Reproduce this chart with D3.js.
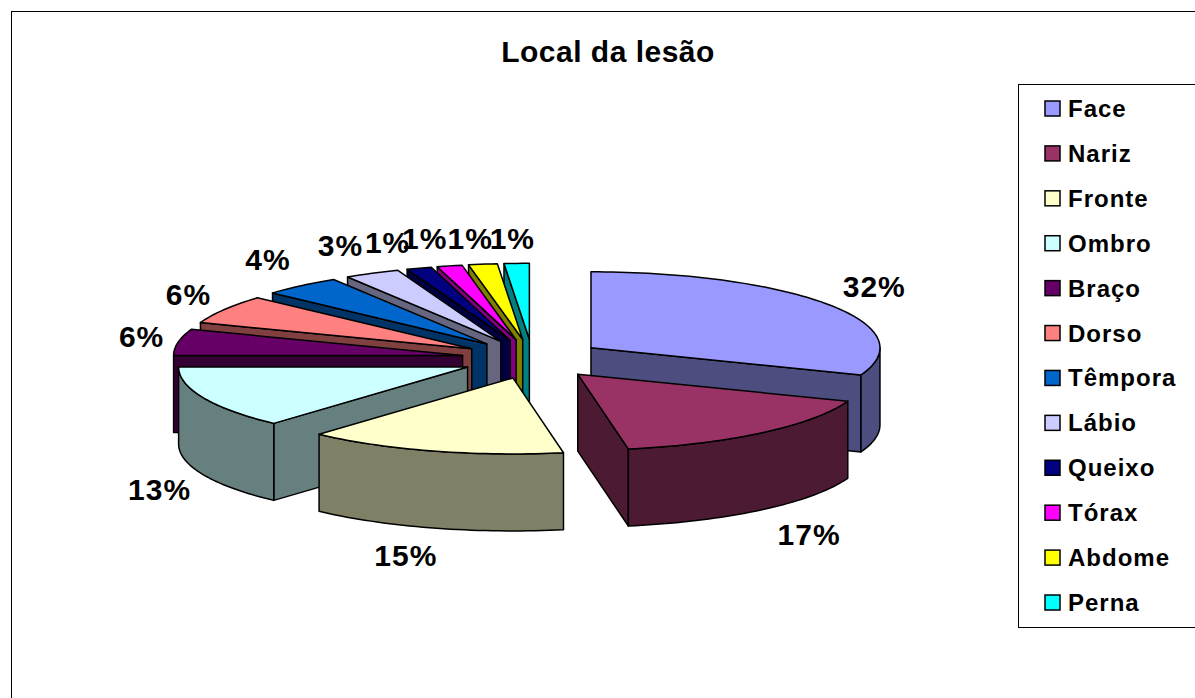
<!DOCTYPE html>
<html>
<head>
<meta charset="utf-8">
<script src="https://cdn.jsdelivr.net/npm/d3@7"></script>
<style>
    html, body { margin: 0; padding: 0; background: #fff; overflow: hidden; }
    text { font-family: "Liberation Sans", Arial, sans-serif; font-weight: bold; fill: #000; }
</style>
</head>
<body>
<div id="chart"></div>
<script>
// categories and printed labels
var categories = ["Face", "Nariz", "Fronte", "Ombro", "Braço", "Dorso", "Têmpora", "Lábio", "Queixo", "Tórax", "Abdome", "Perna"];
var percentLabels = ["32%", "17%", "15%", "13%", "6%", "6%", "4%", "3%", "1%", "1%", "1%", "1%"];
// share of the circle each slice takes as drawn (the 3D view stretches the small ones)
var drawnShare = [30.8, 16.4, 14.5, 13.3, 5.6, 6.1, 4.4, 3.1, 1.4, 1.4, 1.6, 1.4];
var topColors = ["#9999FF", "#993366", "#FFFFCC", "#CCFFFF", "#660066", "#FF8080", "#0066CC", "#CCCCFF", "#000080", "#FF00FF", "#FFFF00", "#00FFFF"];
var wallColors = ["#4D4D80", "#4D1A33", "#808066", "#668080", "#330033", "#804040", "#003366", "#666680", "#000040", "#800080", "#808000", "#008080"];
// back slices are painted first
var paintOrder = [11, 10, 9, 8, 7, 6, 5, 4, 3, 2, 0, 1];

var w = 1195;
var h = 698;
var cx = 532.5, cy = 359;
var rx = 289, ry = 76;
var depth = 77;
var explodeX = 71, explodeY = 19.7;
// how far from the slice apex each percent label sits
var labelReachX = [344, 363, 388, 337, 326, 331, 341, 360, 389, 397, 381, 387];
var labelReachY = [108, 109, 105, 113, 105, 104, 110, 107, 102, 104, 101, 100];

var svg = d3.select("#chart")
            .append("svg")
            .attr("width", w)
            .attr("height", h);

// chart frame runs off the right and bottom of the picture
svg.append("rect")
    .attr("x", 11.5).attr("y", 11.5)
    .attr("width", w + 20).attr("height", h + 20)
    .attr("fill", "#fff")
    .attr("stroke", "#000")
    .attr("stroke-width", 1);

svg.append("text")
    .attr("x", 608).attr("y", 62)
    .attr("text-anchor", "middle")
    .attr("font-size", "30px")
    .attr("letter-spacing", "0.5px")
    .text("Local da lesão");

var pie = d3.pie().sort(null).value(function(d) { return d; });
var slices = pie(drawnShare);
var line = d3.line();

function apex(s) {
    var mid = (s.startAngle + s.endAngle) / 2;
    return [cx + explodeX * Math.sin(mid), cy - explodeY * Math.cos(mid)];
}

function rimPoint(s, a, drop) {
    var o = apex(s);
    return [o[0] + rx * Math.sin(a), o[1] - ry * Math.cos(a) + drop];
}

function rimPoints(s, a0, a1, drop) {
    var n = Math.max(2, Math.ceil((a1 - a0) * 40));
    return d3.range(n + 1).map(function(i) {
        return rimPoint(s, a0 + (a1 - a0) * i / n, drop);
    });
}

function edgeWall(s, a) {
    var o = apex(s);
    var p = rimPoint(s, a, 0);
    return line([o, p, [p[0], p[1] + depth], [o[0], o[1] + depth]]) + "Z";
}

var pieG = svg.append("g")
    .attr("stroke", "#000")
    .attr("stroke-width", 1.5)
    .attr("stroke-linejoin", "round");

paintOrder.forEach(function(i) {
    var s = slices[i];
    var g = pieG.append("g");
    var right = Math.PI / 2, left = 3 * Math.PI / 2;

    // only the walls that face the viewer
    if (Math.sin(s.startAngle) < -1e-6) {
        g.append("path").attr("d", edgeWall(s, s.startAngle)).attr("fill", wallColors[i]);
    }
    if (Math.sin(s.endAngle) > 1e-6) {
        g.append("path").attr("d", edgeWall(s, s.endAngle)).attr("fill", wallColors[i]);
    }
    var a0 = Math.max(s.startAngle, right);
    var a1 = Math.min(s.endAngle, left);
    if (a1 > a0) {
        var upper = rimPoints(s, a0, a1, 0);
        var lower = rimPoints(s, a0, a1, depth).reverse();
        g.append("path").attr("d", line(upper.concat(lower)) + "Z").attr("fill", wallColors[i]);
    }

    var outline = [apex(s)].concat(rimPoints(s, s.startAngle, s.endAngle, 0));
    g.append("path").attr("d", line(outline) + "Z").attr("fill", topColors[i]);
});

// percent labels
svg.selectAll(".pct")
    .data(slices)
    .enter()
    .append("text")
    .attr("class", "pct")
    .attr("text-anchor", "middle")
    .attr("font-size", "30px")
    .attr("letter-spacing", "1px")
    .attr("x", function(d, i) {
        var mid = (d.startAngle + d.endAngle) / 2;
        return apex(d)[0] + labelReachX[i] * Math.sin(mid);
    })
    .attr("y", function(d, i) {
        var mid = (d.startAngle + d.endAngle) / 2;
        var extra = Math.cos(mid) < 0 ? depth : 0;
        return apex(d)[1] - labelReachY[i] * Math.cos(mid) + extra + 10;
    })
    .text(function(d, i) { return percentLabels[i]; });

// legend
var legendY = d3.scalePoint()
    .domain(categories)
    .range([108.5, 602.5]);

svg.append("rect")
    .attr("x", 1018.5).attr("y", 84.5)
    .attr("width", 200).attr("height", 543)
    .attr("fill", "#fff")
    .attr("stroke", "#000")
    .attr("stroke-width", 1);

var legend = svg.selectAll(".key")
    .data(categories)
    .enter()
    .append("g")
    .attr("class", "key")
    .attr("transform", function(d) { return "translate(0," + legendY(d) + ")"; });

legend.append("rect")
    .attr("x", 1045).attr("y", -7.5)
    .attr("width", 15).attr("height", 15)
    .attr("fill", function(d, i) { return topColors[i]; })
    .attr("stroke", "#000")
    .attr("stroke-width", 1.5);

legend.append("text")
    .attr("x", 1068).attr("y", 8.5)
    .attr("font-size", "24px")
    .attr("letter-spacing", "1px")
    .text(function(d) { return d; });
</script>
</body>
</html>
